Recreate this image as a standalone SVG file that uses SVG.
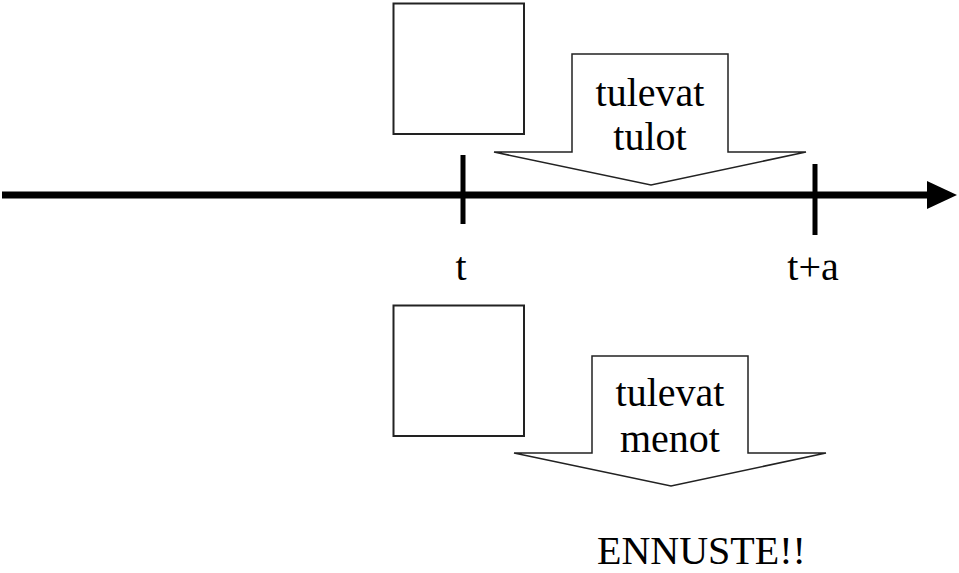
<svg xmlns="http://www.w3.org/2000/svg" width="959" height="573" viewBox="0 0 959 573">
<style>
.box{fill:#fff;stroke:#222;stroke-width:2}
.arr{fill:#fff;stroke:#222;stroke-width:1.5;stroke-linejoin:miter}
text{font-family:"Liberation Serif","Times New Roman",serif;font-size:40px;fill:#000}
.c{text-anchor:middle}
</style>
<rect width="959" height="573" fill="#fff"/>
<g id="connectors">
<line x1="2" y1="195" x2="930" y2="195" stroke="#000" stroke-width="7"/>
<polygon points="927,181 957,195 927,209" fill="#000"/>
<line x1="463" y1="155" x2="463" y2="224" stroke="#000" stroke-width="5"/>
<line x1="815" y1="164" x2="815" y2="235" stroke="#000" stroke-width="5"/>
</g>
<g id="label-t"><text x="461" y="280" class="c">t</text></g>
<g id="label-ta"><text x="813" y="280" class="c">t+a</text></g>
<g id="box-top"><rect class="box" x="393.5" y="3.5" width="130.5" height="130.5"/></g>
<g id="box-bottom"><rect class="box" x="393.5" y="305.5" width="130.5" height="130.5"/></g>
<g id="arrow-tulot">
<polygon class="arr" points="572,54 728,54 728,152 806,152 651,185 494,152 572,152"/>
<text x="650" y="106" class="c">tulevat</text>
<text x="650" y="150" class="c">tulot</text>
</g>
<g id="arrow-menot">
<polygon class="arr" points="592,356 748,356 748,453 826,453 671,486 514,453 592,453"/>
<text x="670" y="406" class="c">tulevat</text>
<text x="670" y="452" class="c">menot</text>
</g>
<g id="ennuste"><text x="597" y="564">ENNUSTE!!</text></g>
</svg>
